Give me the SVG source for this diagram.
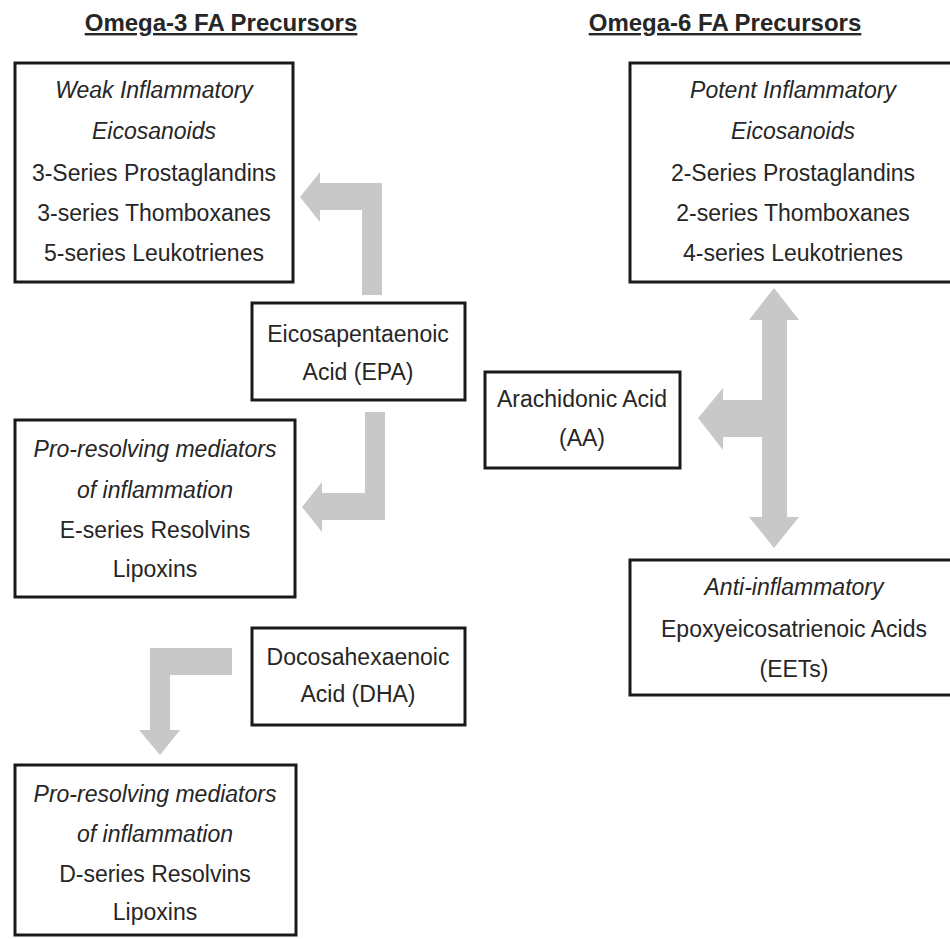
<svg xmlns="http://www.w3.org/2000/svg" width="950" height="939" viewBox="0 0 950 939">
<style>
.box{fill:#fff;stroke:#1a1a1a;stroke-width:3}
.t{font-family:"Liberation Sans",Arial,sans-serif;font-size:23px;fill:#262626;text-anchor:middle}
.i{font-style:italic}
.h{font-family:"Liberation Sans",Arial,sans-serif;font-size:24px;font-weight:bold;fill:#262626;text-anchor:middle;text-decoration:underline}
.arr{fill:#c8c8c8}
</style>
<rect width="950" height="939" fill="#fff"/>
<g id="headers">
<text class="h" x="221" y="31">Omega-3 FA Precursors</text>
<text class="h" x="725" y="31">Omega-6 FA Precursors</text>
</g>
<g id="connectors">
<polygon class="arr" points="382,295 382,183 320,183 320,172 300,197 320,222 320,210 362,210 362,295"/>
<polygon class="arr" points="365,412 385,412 385,520 322,520 322,532 302,507 322,482 322,493 365,493"/>
<polygon class="arr" points="232,648 232,675 170,675 170,730 180,730 160,755 139,730 150,730 150,648"/>
<polygon class="arr" points="774,288 799,320 787,320 787,517 799,517 774,548 749,517 762,517 762,437 723,437 723,450 698,418 723,388 723,400 762,400 762,320 749,320"/>
</g>
<g id="weak">
<rect class="box" x="15" y="63" width="278" height="219"/>
<text class="t i" x="154" y="98">Weak Inflammatory</text>
<text class="t i" x="154" y="139">Eicosanoids</text>
<text class="t" x="154" y="181">3-Series Prostaglandins</text>
<text class="t" x="154" y="221">3-series Thomboxanes</text>
<text class="t" x="154" y="261">5-series Leukotrienes</text>
</g>
<g id="potent">
<rect class="box" x="630" y="63" width="326" height="219"/>
<text class="t i" x="793" y="98">Potent Inflammatory</text>
<text class="t i" x="793" y="139">Eicosanoids</text>
<text class="t" x="793" y="181">2-Series Prostaglandins</text>
<text class="t" x="793" y="221">2-series Thomboxanes</text>
<text class="t" x="793" y="261">4-series Leukotrienes</text>
</g>
<g id="epa">
<rect class="box" x="252" y="303" width="213" height="97"/>
<text class="t" x="358" y="342">Eicosapentaenoic</text>
<text class="t" x="358" y="380">Acid (EPA)</text>
</g>
<g id="aa">
<rect class="box" x="485" y="372" width="195" height="96"/>
<text class="t" x="582" y="407">Arachidonic Acid</text>
<text class="t" x="582" y="446">(AA)</text>
</g>
<g id="eseries">
<rect class="box" x="15" y="420" width="280" height="177"/>
<text class="t i" x="155" y="457">Pro-resolving mediators</text>
<text class="t i" x="155" y="498">of inflammation</text>
<text class="t" x="155" y="538">E-series Resolvins</text>
<text class="t" x="155" y="577">Lipoxins</text>
</g>
<g id="anti">
<rect class="box" x="630" y="560" width="326" height="135"/>
<text class="t i" x="794" y="595">Anti-inflammatory</text>
<text class="t" x="794" y="637">Epoxyeicosatrienoic Acids</text>
<text class="t" x="794" y="677">(EETs)</text>
</g>
<g id="dha">
<rect class="box" x="252" y="628" width="213" height="97"/>
<text class="t" x="358" y="665">Docosahexaenoic</text>
<text class="t" x="358" y="702">Acid (DHA)</text>
</g>
<g id="dseries">
<rect class="box" x="15" y="765" width="281" height="170"/>
<text class="t i" x="155" y="802">Pro-resolving mediators</text>
<text class="t i" x="155" y="842">of inflammation</text>
<text class="t" x="155" y="882">D-series Resolvins</text>
<text class="t" x="155" y="920">Lipoxins</text>
</g>
</svg>
